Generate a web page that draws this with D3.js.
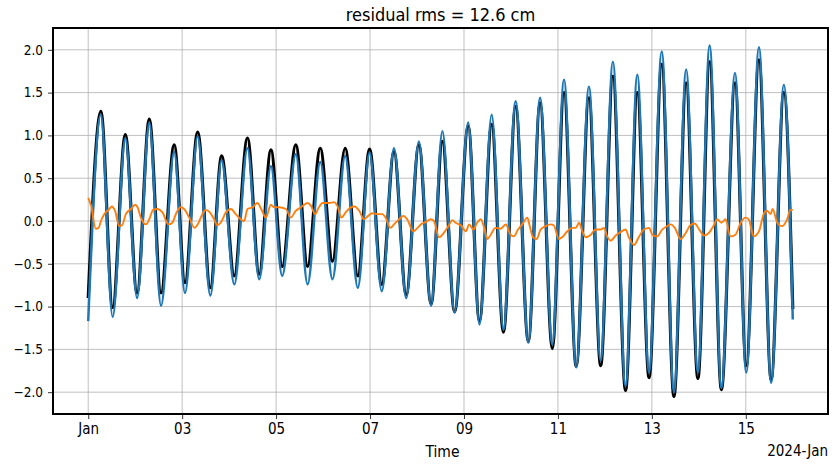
<!DOCTYPE html>
<html>
<head>
<meta charset="utf-8">
<script src="https://cdn.jsdelivr.net/npm/d3@7"></script>
<style>
  body { margin: 0; background: #fff; }
  svg text { font-family: 'DejaVu Sans', sans-serif; fill: #000; }
  .narrow { font-family: 'DejaVu Sans Condensed', 'DejaVu Sans', sans-serif !important; font-stretch: condensed; }
  .grid line { stroke: #b0b0b0; stroke-width: 0.8; }
  .axis path { display: none; }
  .axis line { stroke: #000; stroke-width: 0.8; }
  .axis-y text { font-size: 13.5px; }
  .axis-x text { font-size: 15px; }
</style>
</head>
<body>
<svg id="chart" width="838" height="468"></svg>
<script>
// extremes of the tide curves, days after 2024-01-01 00:00
const tideDays = [0, 0.27, 0.52, 0.79, 1.04, 1.30, 1.55, 1.83, 2.06, 2.33, 2.60, 2.84, 3.11, 3.39, 3.64,
  3.89, 4.13, 4.42, 4.67, 4.94, 5.20, 5.47, 5.74, 5.99, 6.25, 6.51, 6.77, 7.04, 7.30, 7.54, 7.80,
  8.09, 8.33, 8.59, 8.84, 9.10, 9.37, 9.62, 9.88, 10.13, 10.39, 10.66, 10.91, 11.17, 11.44, 11.69,
  11.94, 12.21, 12.47, 12.73, 12.98, 13.23, 13.48, 13.77, 14.01, 14.28, 14.54, 14.81, 15.0]
const observed = [-0.90, 1.28, -1.01, 1.01, -0.84, 1.19, -0.84, 0.89, -0.72, 1.04, -0.78, 0.76, -0.64, 0.97, -0.62,
  0.83, -0.53, 0.89, -0.53, 0.85, -0.47, 0.85, -0.64, 0.84, -0.74, 0.81, -0.86, 0.89, -0.97, 0.93, -1.06,
  1.11, -1.17, 1.13, -1.30, 1.34, -1.41, 1.38, -1.49, 1.50, -1.70, 1.44, -1.69, 1.69, -1.98, 1.50,
  -1.83, 1.83, -2.05, 1.61, -1.84, 1.86, -1.97, 1.61, -1.69, 1.88, -1.85, 1.50, -1.03]
const predicted = [-1.17, 1.24, -1.12, 0.97, -0.90, 1.15, -0.99, 0.81, -0.84, 0.99, -0.87, 0.71, -0.74, 0.85, -0.68,
  0.64, -0.64, 0.78, -0.74, 0.69, -0.68, 0.76, -0.78, 0.80, -0.82, 0.85, -0.90, 0.93, -0.99, 1.05, -1.07,
  1.15, -1.21, 1.24, -1.27, 1.40, -1.42, 1.44, -1.44, 1.65, -1.71, 1.57, -1.63, 1.86, -1.93, 1.71,
  -1.77, 1.98, -2.00, 1.77, -1.77, 2.05, -1.95, 1.73, -1.77, 2.03, -1.89, 1.59, -1.15]

const residDays = [0, 0.06, 0.16, 0.22, 0.27, 0.34, 0.45, 0.50, 0.57, 0.66, 0.72, 0.80, 0.91, 1.00, 1.05,
  1.12, 1.23, 1.30, 1.38, 1.47, 1.58, 1.71, 1.79, 1.88, 1.97, 2.04, 2.15, 2.26, 2.33, 2.43, 2.50,
  2.59, 2.68, 2.75, 2.82, 2.93, 3.04, 3.14, 3.25, 3.32, 3.39, 3.50, 3.60, 3.70, 3.78, 3.89, 3.96,
  4.06, 4.21, 4.31, 4.42, 4.53, 4.67, 4.74, 4.83, 4.91, 4.99, 5.13, 5.23, 5.30, 5.39, 5.48, 5.59,
  5.67, 5.77, 5.87, 5.96, 6.05, 6.16, 6.26, 6.33, 6.43, 6.51, 6.62, 6.71, 6.79, 6.92, 7.01, 7.08,
  7.19, 7.29, 7.36, 7.47, 7.57, 7.68, 7.75, 7.82, 7.93, 8.04, 8.11, 8.20, 8.28, 8.36, 8.43, 8.50,
  8.57, 8.67, 8.78, 8.89, 8.99, 9.06, 9.15, 9.24, 9.35, 9.40, 9.47, 9.55, 9.63, 9.74, 9.84, 9.91,
  10.02, 10.09, 10.20, 10.30, 10.38, 10.45, 10.52, 10.59, 10.70, 10.80, 10.91, 10.98, 11.05, 11.12,
  11.23, 11.33, 11.44, 11.51, 11.62, 11.72, 11.83, 11.94, 12.01, 12.11, 12.22, 12.33, 12.40, 12.49,
  12.61, 12.72, 12.82, 12.91, 13.01, 13.11, 13.21, 13.32, 13.39, 13.48, 13.57, 13.67, 13.78, 13.89,
  13.99, 14.06, 14.17, 14.28, 14.38, 14.45, 14.53, 14.57, 14.67, 14.77, 14.88, 14.95, 15.0]
const residual = [0.27, 0.18, -0.09, -0.08, 0.00, 0.08, 0.14, 0.17, 0.12, -0.06, -0.05, 0.08, 0.14, 0.19, 0.16,
  0.04, -0.04, 0.02, 0.13, 0.14, 0.10, -0.04, -0.02, 0.10, 0.16, 0.14, 0.04, -0.08, -0.04, 0.08, 0.13,
  0.10, 0.02, -0.05, -0.02, 0.10, 0.14, 0.08, 0.02, 0.00, 0.14, 0.16, 0.21, 0.12, 0.04, 0.19, 0.16,
  0.16, 0.14, 0.04, 0.12, 0.16, 0.21, 0.18, 0.08, 0.16, 0.21, 0.21, 0.22, 0.18, 0.04, 0.10, 0.16,
  0.17, 0.12, 0.02, 0.06, 0.09, 0.08, 0.08, 0.04, -0.08, -0.04, 0.02, 0.06, 0.02, -0.12, -0.08, -0.04,
  -0.01, 0.02, 0.00, -0.19, -0.14, -0.05, 0.01, -0.02, -0.05, -0.12, -0.04, -0.10, -0.02, 0.02, -0.08, -0.21,
  -0.16, -0.08, -0.09, -0.04, -0.16, -0.18, -0.10, -0.04, 0.04, -0.06, -0.19, -0.21, -0.10, -0.06, -0.04, -0.05,
  -0.21, -0.19, -0.12, -0.08, -0.08, -0.02, -0.12, -0.19, -0.16, -0.10, -0.10, -0.08, -0.18, -0.23,
  -0.17, -0.13, -0.10, -0.19, -0.28, -0.19, -0.10, -0.08, -0.16, -0.18, -0.10, -0.06, -0.04, -0.08,
  -0.21, -0.14, -0.05, -0.03, -0.10, -0.17, -0.14, -0.05, 0.02, -0.02, 0.02, -0.18, -0.16, -0.02,
  0.04, 0.02, -0.18, -0.12, 0.08, 0.12, 0.08, 0.14, -0.02, -0.06, 0.02, 0.13, 0.13]

const xTickDays = [0, 2, 4, 6, 8, 10, 12, 14]
const xTickLabels = ['Jan', '03', '05', '07', '09', '11', '13', '15']
const yTicks = [-2, -1.5, -1, -0.5, 0, 0.5, 1, 1.5, 2]

const base = Date.UTC(2024, 0, 1)
const toDate = d => new Date(base + d * 864e5)

const margin = { top: 28, right: 10, bottom: 54, left: 53 }
const svg = d3.select('#chart')
const width = 838 - margin.left - margin.right
const height = 468 - margin.top - margin.bottom

const x = d3.scaleUtc().domain([toDate(-0.75), toDate(15.75)]).range([0, width])
const y = d3.scaleLinear().domain([-2.255, 2.255]).range([height, 0])

const g = svg.append('g').attr('transform', `translate(${margin.left},${margin.top})`)

// grid
g.append('g').attr('class', 'grid')
  .selectAll('line').data(xTickDays).join('line')
  .attr('x1', d => x(toDate(d))).attr('x2', d => x(toDate(d)))
  .attr('y1', 0).attr('y2', height)
g.append('g').attr('class', 'grid')
  .selectAll('line').data(yTicks).join('line')
  .attr('x1', 0).attr('x2', width)
  .attr('y1', d => y(d)).attr('y2', d => y(d))

const line = (days, vals) => d3.line()
  .x((d, i) => x(toDate(days[i])))
  .y(d => y(d))
  .curve(d3.curveMonotoneX)(vals)

g.append('path')
  .attr('d', line(tideDays, observed))
  .attr('fill', 'none').attr('stroke', '#000').attr('stroke-width', 3.2)
g.append('path')
  .attr('d', line(tideDays, predicted))
  .attr('fill', 'none').attr('stroke', '#1f77b4').attr('stroke-width', 2.5)
g.append('path')
  .attr('d', line(residDays, residual))
  .attr('fill', 'none').attr('stroke', '#ff7f0e').attr('stroke-width', 1.9)

// axes
const axisX = d3.axisBottom(x)
  .tickValues(xTickDays.map(toDate))
  .tickFormat((d, i) => xTickLabels[i])
  .tickSize(5).tickPadding(4)
g.append('g').attr('class', 'axis axis-x')
  .attr('transform', `translate(0,${height})`)
  .call(axisX)
  .selectAll('text').attr('class', 'narrow')

const axisY = d3.axisLeft(y)
  .tickValues(yTicks)
  .tickFormat(d3.format('.1f'))
  .tickSize(5).tickPadding(5)
g.append('g').attr('class', 'axis axis-y').call(axisY)
  .selectAll('text').attr('class', 'narrow')

g.append('rect')
  .attr('width', width).attr('height', height)
  .attr('fill', 'none').attr('stroke', '#000').attr('stroke-width', 2)

g.append('text').attr('class', 'narrow')
  .attr('x', width / 2).attr('y', -7)
  .attr('text-anchor', 'middle').attr('font-size', 18)
  .text('residual rms = 12.6 cm')

g.append('text').attr('class', 'narrow')
  .attr('x', width / 2 + 2).attr('y', height + 43)
  .attr('text-anchor', 'middle').attr('font-size', 15.5)
  .text('Time')

g.append('text').attr('class', 'narrow')
  .attr('x', width).attr('y', height + 42)
  .attr('text-anchor', 'end').attr('font-size', 15)
  .text('2024-Jan')
</script>
</body>
</html>
